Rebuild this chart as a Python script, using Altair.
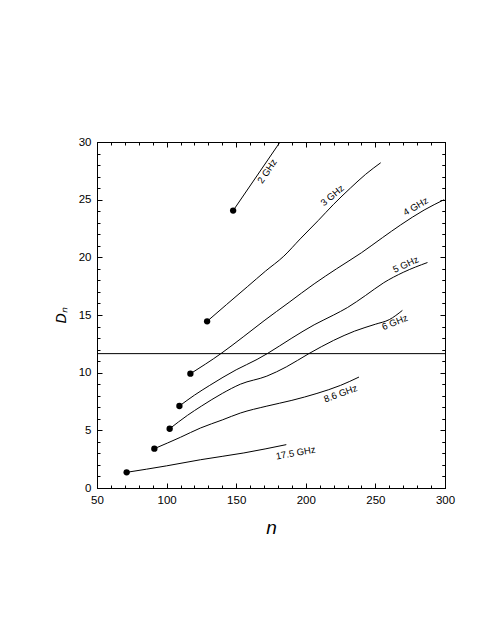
import altair as alt
import pandas as pd

# ---- data ----
series_names = ["2 GHz", "3 GHz", "4 GHz", "5 GHz", "6 GHz", "8.6 GHz", "17.5 GHz"]

n_2 = [147.8, 181.5]
d_2 = [24.05, 30.0]

n_3 = [129.1, 143, 158, 171, 184.2, 196, 209, 220, 232, 243, 253.8]
d_3 = [14.45, 15.9, 17.45, 18.8, 20.1, 21.6, 23.2, 24.6, 26.0, 27.2, 28.2]

n_4 = [117.1, 139, 155, 170, 188, 206, 222, 240, 255, 268, 285, 299.4]
d_4 = [9.91, 11.65, 13.1, 14.5, 16.1, 17.7, 19.0, 20.4, 21.7, 22.8, 24.1, 25.0]

n_5 = [109.2, 120, 131, 150, 165, 172.3, 190, 206, 220, 230, 243, 256, 270, 287.4]
d_5 = [7.11, 8.05, 8.9, 10.25, 11.15, 11.65, 13.0, 14.15, 15.0, 15.65, 16.7, 17.8, 18.7, 19.55]

n_6 = [102.2, 115, 125, 140, 153, 172, 186, 202.2, 220, 235, 250, 260, 269.4]
d_6 = [5.14, 6.3, 7.1, 8.2, 9.0, 9.7, 10.5, 11.65, 12.8, 13.6, 14.2, 14.6, 15.4]

n_86 = [91.2, 110, 124.3, 140, 153, 172, 190, 208, 225, 238.2]
d_86 = [3.41, 4.4, 5.2, 5.9, 6.5, 7.1, 7.6, 8.2, 8.9, 9.62]

n_175 = [71.3, 100, 124.3, 155.5, 186]
d_175 = [1.36, 1.92, 2.45, 3.04, 3.76]

# curve labels (position and text angle)
label_text = ["2 GHz", "3 GHz", "4 GHz", "5 GHz", "6 GHz", "8.6 GHz", "17.5 GHz"]
label_n = [172.3, 219.1, 279.0, 271.8, 264.0, 225.0, 192.7]
label_d = [27.46, 25.35, 24.4, 19.37, 14.35, 8.18, 3.03]
label_angle = [304, 320, 330, 335, 338, 340, 350]

hline_y = [11.65]

x_major = [50, 100, 150, 200, 250, 300]
x_minor = list(range(50, 301, 10))
y_major = [0, 5, 10, 15, 20, 25, 30]
y_minor = list(range(0, 31, 1))

# ---- tables ----
all_n = [n_2, n_3, n_4, n_5, n_6, n_86, n_175]
all_d = [d_2, d_3, d_4, d_5, d_6, d_86, d_175]
rows = []
for name, ns, ds in zip(series_names, all_n, all_d):
    for i, (a, b) in enumerate(zip(ns, ds)):
        rows.append({"series": name, "n": a, "D": b, "order": i})
lines_df = pd.DataFrame(rows)
dots_df = lines_df[lines_df["order"] == 0]
labels_df = pd.DataFrame({"text": label_text, "n": label_n, "D": label_d, "ang": label_angle})
rule_df = pd.DataFrame({"D": hline_y})

W, H = 348, 346
FONT = "Liberation Sans"

xs = alt.Scale(domain=[50, 300], nice=False, zero=False)
ys = alt.Scale(domain=[0, 30], nice=False, zero=False)


def tick_axis(orient, offset, values, size):
    return alt.Axis(orient=orient, offset=offset, values=values, tickSize=size,
                    labels=False, domain=False, grid=False, title="",
                    tickColor="black", tickWidth=1)


lines = alt.Chart(lines_df).mark_line(color="black", strokeWidth=1, interpolate="monotone").encode(
    x=alt.X("n:Q", scale=xs, axis=alt.Axis(
        orient="bottom", values=x_major, ticks=False, domain=False, grid=False,
        labelFlush=False, labelPadding=6, labelFontSize=11.5, labelFont=FONT,
        labelColor="black",
        title="n", titleFont=FONT, titleFontStyle="italic", titleFontWeight="normal",
        titleFontSize=19, titlePadding=13, titleColor="black")),
    y=alt.Y("D:Q", scale=ys, axis=alt.Axis(
        orient="left", values=y_major, ticks=False, domain=False, grid=False,
        labelFlush=False, labelPadding=6, labelFontSize=11.5, labelFont=FONT,
        labelColor="black",
        title="Dₙ", titleFont=FONT, titleFontStyle="italic", titleFontWeight="normal",
        titleFontSize=14, titlePadding=10, titleColor="black")),
    detail="series:N",
    order="order:Q",
)

dots = alt.Chart(dots_df).mark_circle(color="black", opacity=1, size=40).encode(
    x=alt.X("n:Q", scale=xs, axis=tick_axis("top", -H, x_major, 5)),
    y=alt.Y("D:Q", scale=ys, axis=tick_axis("right", -W, y_major, 5)),
)

rule = alt.Chart(rule_df).mark_rule(color="black", strokeWidth=1).encode(
    y=alt.Y("D:Q", scale=ys, axis=tick_axis("right", -W, y_minor, 3)),
)

labels = alt.Chart(labels_df).mark_text(
    font=FONT, fontSize=9.5, color="black", align="center", baseline="middle"
).encode(
    x=alt.X("n:Q", scale=xs, axis=tick_axis("bottom", -H, x_major, 5)),
    y=alt.Y("D:Q", scale=ys, axis=tick_axis("left", -W, y_major, 5)),
    text="text:N",
    angle=alt.Angle("ang:Q", scale=None),
)

ghost = alt.Chart(lines_df).mark_line(strokeOpacity=0).encode(
    x=alt.X("n:Q", scale=xs, axis=tick_axis("bottom", -H, x_minor, 3)),
    y=alt.Y("D:Q", scale=ys, axis=tick_axis("left", -W, y_minor, 3)),
    detail="series:N",
    order="order:Q",
)

ghost2 = alt.Chart(lines_df).mark_line(strokeOpacity=0).encode(
    x=alt.X("n:Q", scale=xs, axis=tick_axis("top", -H, x_minor, 3)),
    y=alt.Y("D:Q", scale=ys, axis=tick_axis("left", -W, y_minor, 3)),
    detail="series:N",
    order="order:Q",
)

chart = alt.layer(lines, dots, rule, labels, ghost, ghost2).resolve_axis(
    x="independent", y="independent"
).properties(
    width=W, height=H,
    autosize=alt.AutoSizeParams(type="none"),
    padding={"left": 89, "top": 134, "right": 30, "bottom": 130},
    background="white",
).configure_view(stroke="black", strokeWidth=1)

chart.save("out.html", embed_options={"renderer": "svg", "actions": False})
